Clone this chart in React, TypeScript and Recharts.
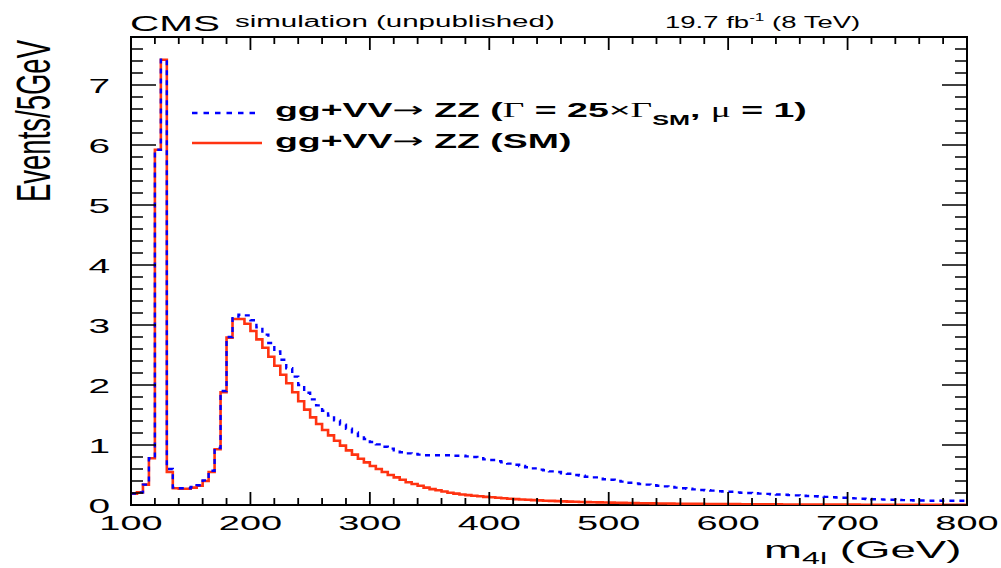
import React from "react";
import { ComposedChart, Line, XAxis, YAxis, ReferenceArea } from "recharts";

// m4l binning: 5 GeV bins from 100 to 800 GeV
const X_MIN = 100;
const X_MAX = 800;
const BIN_WIDTH = 5;

// gg+VV -> ZZ (SM), events per bin, one row = 50 GeV
const SM_EVENTS = [
  0.19, 0.21, 0.34, 0.78, 5.92, 7.42, 0.55, 0.28, 0.27, 0.27,
  0.29, 0.32, 0.4, 0.55, 0.93, 1.88, 2.79, 3.1, 3.1, 3.02,
  2.9, 2.76, 2.62, 2.47, 2.32, 2.17, 2.03, 1.88, 1.73, 1.59,
  1.46, 1.35, 1.25, 1.16, 1.07, 0.99, 0.91, 0.84, 0.77, 0.71,
  0.65, 0.6, 0.55, 0.5, 0.46, 0.42, 0.38, 0.35, 0.32, 0.29,
  0.265, 0.245, 0.225, 0.205, 0.19, 0.175, 0.165, 0.155, 0.145, 0.135,
  0.128, 0.12, 0.112, 0.105, 0.098, 0.092, 0.087, 0.082, 0.077, 0.072,
  0.068, 0.064, 0.06, 0.057, 0.054, 0.051, 0.048, 0.045, 0.043, 0.041,
  0.039, 0.037, 0.035, 0.033, 0.031, 0.03, 0.028, 0.027, 0.026, 0.024,
  0.023, 0.022, 0.021, 0.02, 0.019, 0.018, 0.017, 0.016, 0.016, 0.015,
  0.014, 0.014, 0.013, 0.012, 0.012, 0.011, 0.011, 0.01, 0.01, 0.009,
  0.009, 0.009, 0.008, 0.008, 0.008, 0.007, 0.007, 0.007, 0.006, 0.006,
  0.006, 0.006, 0.005, 0.005, 0.005, 0.005, 0.005, 0.004, 0.004, 0.004,
  0.004, 0.004, 0.004, 0.003, 0.003, 0.003, 0.003, 0.003, 0.003, 0.003,
];

// gg+VV -> ZZ (Gamma = 25 x Gamma_SM, mu = 1)
const WIDE_EVENTS = [
  0.19, 0.21, 0.34, 0.78, 5.92, 7.42, 0.6, 0.29, 0.28, 0.28,
  0.3, 0.33, 0.41, 0.57, 0.95, 1.9, 2.8, 3.14, 3.17, 3.16,
  3.08, 2.96, 2.84, 2.7, 2.56, 2.42, 2.28, 2.14, 2.0, 1.87,
  1.76, 1.66, 1.57, 1.49, 1.41, 1.34, 1.27, 1.21, 1.15, 1.1,
  1.05, 1.01, 0.97, 0.94, 0.91, 0.88, 0.86, 0.85, 0.84, 0.83,
  0.83, 0.83, 0.83, 0.83, 0.82, 0.82, 0.81, 0.8, 0.78, 0.76,
  0.75, 0.73, 0.71, 0.69, 0.67, 0.65, 0.63, 0.61, 0.59, 0.58,
  0.56, 0.55, 0.53, 0.52, 0.5, 0.49, 0.47, 0.46, 0.44, 0.43,
  0.42, 0.4, 0.39, 0.37, 0.36, 0.35, 0.34, 0.33, 0.32, 0.31,
  0.3, 0.29, 0.28, 0.27, 0.26, 0.25, 0.245, 0.24, 0.23, 0.225,
  0.22, 0.21, 0.205, 0.2, 0.195, 0.19, 0.185, 0.18, 0.175, 0.17,
  0.165, 0.16, 0.155, 0.15, 0.145, 0.14, 0.135, 0.13, 0.125, 0.12,
  0.115, 0.11, 0.105, 0.1, 0.097, 0.094, 0.09, 0.087, 0.084, 0.081,
  0.078, 0.076, 0.074, 0.072, 0.07, 0.07, 0.07, 0.07, 0.07, 0.07,
];

const Y_MAX = 7.8;
const X_TICKS = Array.from({ length: 36 }, (_, i) => X_MIN + i * 20);
const Y_TICKS = Array.from({ length: 40 }, (_, i) => Math.round(i * 2) / 10);

// bin edges, last edge repeats the last bin so the step closes at 800
const rows = Array.from({ length: SM_EVENTS.length + 1 }, (_, i) => {
  const k = Math.min(i, SM_EVENTS.length - 1);
  return { m: X_MIN + i * BIN_WIDTH, sm: SM_EVENTS[k], wide: WIDE_EVENTS[k] };
});

const W = 1001;
const H = 568;
const PLOT = { left: 131, right: 967, top: 37, bottom: 505 };
const FONT = "'Liberation Sans', Arial, Helvetica, sans-serif";
const SERIF = "'Liberation Serif', 'DejaVu Serif', serif";
const ARROW_FONT = "'DejaVu Sans', sans-serif";
const RED = "#ff3311";
const BLUE = "#0000ff";

// the reference is stretched horizontally, so text gets an x scale
function Stretch({ x, y, sx = 1.8, children, ...rest }: any) {
  return (
    <text
      transform={`translate(${x},${y}) scale(${sx},1)`}
      fontFamily={FONT}
      fill="#000"
      {...rest}
    >
      {children}
    </text>
  );
}

function XTick({ x, payload }: any) {
  const v = payload.value;
  const major = v % 100 === 0;
  const len = major ? 13 : 7;
  return (
    <g>
      <line x1={x} x2={x} y1={PLOT.bottom} y2={PLOT.bottom - len} stroke="#000" strokeWidth={1.8} />
      <line x1={x} x2={x} y1={PLOT.top} y2={PLOT.top + len} stroke="#000" strokeWidth={1.8} />
      {major && (
        <Stretch x={x} y={PLOT.bottom + 25} textAnchor="middle" fontSize={20.5} sx={1.85}>
          {v}
        </Stretch>
      )}
    </g>
  );
}

function YTick({ y, payload }: any) {
  const v = payload.value;
  const major = Math.abs(v - Math.round(v)) < 1e-6;
  const len = major ? 25 : 12;
  return (
    <g>
      <line x1={PLOT.left} x2={PLOT.left + len} y1={y} y2={y} stroke="#000" strokeWidth={1.5} />
      <line x1={PLOT.right} x2={PLOT.right - len} y1={y} y2={y} stroke="#000" strokeWidth={1.5} />
      {major && (
        <Stretch x={110} y={y + 7.5} textAnchor="end" fontSize={21} sx={1.85}>
          {Math.round(v)}
        </Stretch>
      )}
    </g>
  );
}

export default function App() {
  return (
    <div style={{ position: "absolute", left: 0, top: 0, width: W, height: H, background: "#fff" }}>
      <ComposedChart
        width={W}
        height={H}
        data={rows}
        margin={{ top: PLOT.top, right: W - PLOT.right, left: 0, bottom: 0 }}
      >
        <XAxis
          dataKey="m"
          type="number"
          domain={[X_MIN, X_MAX]}
          ticks={X_TICKS}
          interval={0}
          allowDataOverflow
          height={H - PLOT.bottom}
          tickSize={0}
          tickMargin={0}
          tickLine={false}
          axisLine={false}
          tick={(p: any) => <XTick {...p} />}
        />
        <YAxis
          type="number"
          domain={[0, Y_MAX]}
          ticks={Y_TICKS}
          interval={0}
          allowDataOverflow
          width={PLOT.left}
          tickSize={0}
          tickMargin={0}
          tickLine={false}
          axisLine={false}
          tick={(p: any) => <YTick {...p} />}
        />
        <Line
          dataKey="sm"
          type="stepAfter"
          stroke={RED}
          strokeWidth={2.6}
          dot={false}
          activeDot={false}
          isAnimationActive={false}
        />
        <Line
          dataKey="wide"
          type="stepAfter"
          stroke={BLUE}
          strokeWidth={2.4}
          strokeDasharray="5 5"
          dot={false}
          activeDot={false}
          isAnimationActive={false}
        />
        <ReferenceArea
          x1={X_MIN}
          x2={X_MAX}
          y1={0}
          y2={Y_MAX}
          fill="none"
          stroke="#000"
          strokeWidth={2}
          ifOverflow="extendDomain"
        />
      </ComposedChart>

      <svg
        width={W}
        height={H}
        style={{ position: "absolute", left: 0, top: 0, pointerEvents: "none" }}
      >
        <Stretch x={130} y={31} fontSize={22.5}>CMS</Stretch>
        <Stretch x={235} y={26.5} fontSize={16.4}>simulation (unpublished)</Stretch>
        <Stretch x={665} y={28.3} fontSize={16} sx={1.72}>
          19.7 fb<tspan fontSize={10} dy={-7}>-1</tspan>
          <tspan dy={7}>{" (8 TeV)"}</tspan>
        </Stretch>

        <line x1={192} x2={259} y1={113} y2={113} stroke={BLUE} strokeWidth={2.4} strokeDasharray="5.5 6" />
        <line x1={192} x2={262} y1={143} y2={143} stroke={RED} strokeWidth={2.6} />
        <Stretch x={275} y={116.7} fontSize={20.8} fontWeight="bold">
          {"gg+VV"}
          <tspan fontFamily={ARROW_FONT} fontWeight="normal">{"\u2192"}</tspan>
          {" ZZ ("}
          <tspan fontFamily={SERIF} fontWeight="normal">{"\u0393"}</tspan>
          {" = 25"}
          <tspan fontWeight="normal">{"\u00d7"}</tspan>
          <tspan fontFamily={SERIF} fontWeight="normal">{"\u0393"}</tspan>
          <tspan fontSize={14} dy={8}>SM</tspan>
          <tspan dy={-8}>{", "}</tspan>
          <tspan fontFamily={SERIF} fontWeight="normal">{"\u03bc"}</tspan>
          {" = 1)"}
        </Stretch>
        <Stretch x={275} y={148.3} fontSize={20.8} fontWeight="bold">
          {"gg+VV"}
          <tspan fontFamily={ARROW_FONT} fontWeight="normal">{"\u2192"}</tspan>
          {" ZZ (SM)"}
        </Stretch>

        <Stretch x={764} y={558} fontSize={24} sx={1.9}>
          m<tspan fontSize={17} dy={6}>4l</tspan>
          <tspan dy={-6}>{" (GeV)"}</tspan>
        </Stretch>
        <text
          transform="translate(50,202) scale(1.78,1) rotate(-90)"
          fontFamily={FONT}
          fontSize={27.5}
          fill="#000"
        >
          Events/5GeV
        </text>
      </svg>
    </div>
  );
}
